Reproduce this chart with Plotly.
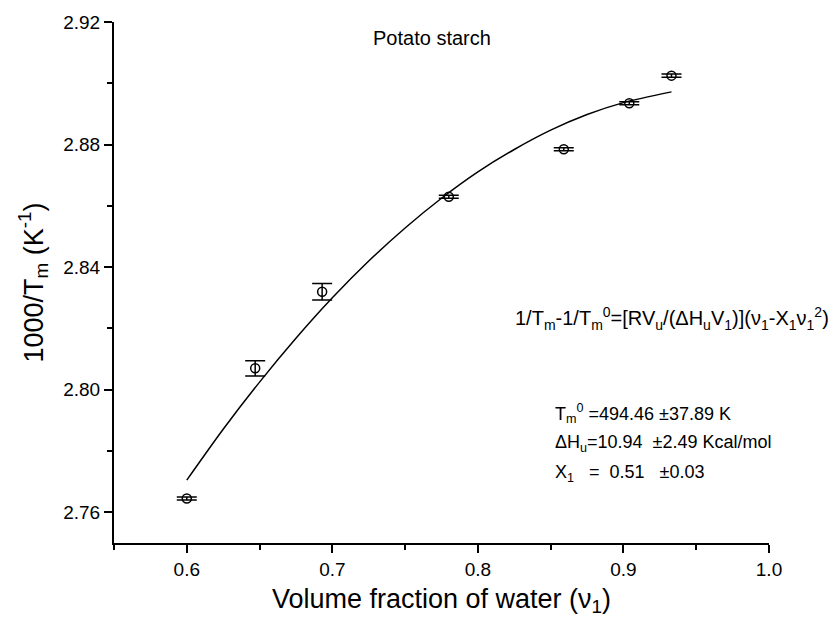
import plotly.graph_objects as go

# measured points
water_frac = [0.600, 0.647, 0.693, 0.780, 0.859, 0.904, 0.933]
inv_tm = [2.7645, 2.8070, 2.8320, 2.8630, 2.8785, 2.8935, 2.9025]
inv_tm_err = [0.0005, 0.0025, 0.0027, 0.0005, 0.0005, 0.0005, 0.0005]

# fitted curve
fit_x = [0.600, 0.625, 0.650, 0.675, 0.700, 0.725, 0.750, 0.775, 0.800,
         0.825, 0.850, 0.875, 0.900, 0.933]
fit_y = [2.7705, 2.7871, 2.8025, 2.8168, 2.8300, 2.8420, 2.8528, 2.8625, 2.8711,
         2.8784, 2.8847, 2.8898, 2.8937, 2.8972]

x_ticks = [0.6, 0.7, 0.8, 0.9, 1.0]
x_ticklabels = ["0.6", "0.7", "0.8", "0.9", "1.0"]
y_ticks = [2.76, 2.80, 2.84, 2.88, 2.92]
y_ticklabels = ["2.76", "2.80", "2.84", "2.88", "2.92"]

FONT = "Liberation Sans, Arial, sans-serif"

fig = go.Figure()
fig.add_trace(go.Scatter(
    x=fit_x, y=fit_y, mode="lines", line=dict(color="black", width=1.5, shape="spline", smoothing=0.8),
    showlegend=False, hoverinfo="skip"))
fig.add_trace(go.Scatter(
    x=water_frac, y=inv_tm, mode="markers",
    marker=dict(symbol="circle-open", size=9, color="black", line=dict(width=1.5, color="black")),
    error_y=dict(type="data", array=inv_tm_err, visible=True, color="black", thickness=1.5, width=10),
    showlegend=False))

axis_common = dict(
    showline=True, linecolor="black", linewidth=2, mirror=False, showgrid=False, zeroline=False,
    ticks="outside", ticklen=8, tickwidth=2, tickcolor="black",
    tickfont=dict(family=FONT, size=19, color="black"),
)

fig.update_xaxes(
    range=[0.55, 1.0], tickmode="array", tickvals=x_ticks, ticktext=x_ticklabels,
    minor=dict(ticks="outside", ticklen=5, tickwidth=1.5, tickcolor="black", dtick=0.05, tick0=0.55),
    title=dict(text="Volume fraction of water (ν<sub>1</sub>)", font=dict(family=FONT, size=27, color="black"), standoff=10),
    **axis_common)
fig.update_yaxes(
    range=[2.75, 2.92], tickmode="array", tickvals=y_ticks, ticktext=y_ticklabels,
    minor=dict(ticks="outside", ticklen=5, tickwidth=1.5, tickcolor="black", dtick=0.02, tick0=2.76),
    title=dict(text="1000/T<sub>m</sub> (K<sup>-1</sup>)", font=dict(family=FONT, size=27, color="black"), standoff=12),
    **axis_common)

ann_font = dict(family=FONT, size=20, color="black")
par_font = dict(family=FONT, size=18, color="black")
annotations = [
    dict(x=0.7684, y=2.9148, text="Potato starch", font=ann_font, xanchor="center", yanchor="middle"),
    dict(x=0.824, y=2.8231,
         text="1/T<sub>m</sub>-1/T<sub>m</sub><sup>0</sup>=[RV<sub>u</sub>/(ΔH<sub>u</sub>V<sub>1</sub>)](ν<sub>1</sub>-X<sub>1</sub>ν<sub>1</sub><sup>2</sup>)",
         font=ann_font, xanchor="left", yanchor="middle"),
    dict(x=0.8515, y=2.7924, text="T<sub>m</sub><sup>0</sup> =494.46 ±37.89 K", font=par_font, xanchor="left", yanchor="middle"),
    dict(x=0.8515, y=2.7826, text="ΔH<sub>u</sub>=10.94 &nbsp;±2.49 Kcal/mol", font=par_font, xanchor="left", yanchor="middle"),
    dict(x=0.8515, y=2.7728, text="X<sub>1</sub> &nbsp;&nbsp;= &nbsp;0.51 &nbsp;&nbsp;±0.03", font=par_font, xanchor="left", yanchor="middle"),
]
for a in annotations:
    a.update(xref="x", yref="y", showarrow=False)

fig.update_layout(
    width=830, height=627,
    margin=dict(l=114, r=61, t=22, b=84, autoexpand=False),
    paper_bgcolor="white", plot_bgcolor="white",
    annotations=annotations,
)

fig.write_html("out.html")
